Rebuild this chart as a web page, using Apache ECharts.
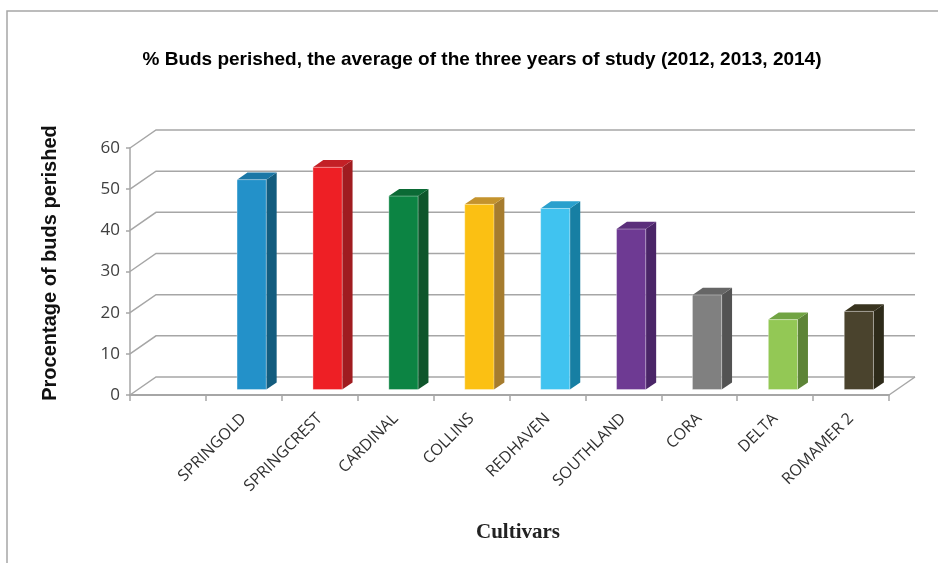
<!DOCTYPE html>
<html>
<head>
<meta charset="utf-8">
<script src="https://cdn.jsdelivr.net/npm/echarts@6/dist/echarts.min.js"></script>
<style>
  html, body { margin: 0; padding: 0; background: #fff; }
  #chart { width: 938px; height: 563px; }
</style>
</head>
<body>
<div id="chart"></div>
<script>
// chart data (first category is left empty, as in the original sheet)
var cultivars = ['', 'SPRINGOLD', 'SPRINGCREST', 'CARDINAL', 'COLLINS', 'REDHAVEN', 'SOUTHLAND', 'CORA', 'DELTA', 'ROMAMER 2'];
var budsPerished = [null, 51, 54, 47, 45, 44, 39, 23, 17, 19];
var yTicks = [0, 10, 20, 30, 40, 50, 60];

// face colours: front, side, top
var barColors = [
	null,
	['#2391c9', '#135c7e', '#1b77a6'],
	['#ee1f25', '#a01c20', '#c32026'],
	['#0c8443', '#0e552b', '#0b6a35'],
	['#fbc013', '#a67c2e', '#c4932d'],
	['#40c3f0', '#177fa3', '#2aa0cd'],
	['#6e3a93', '#4a2567', '#5b2f7b'],
	['#808080', '#535353', '#666666'],
	['#93c855', '#5d8437', '#71a443'],
	['#4a432d', '#2e2b1a', '#39341f']
];

// oblique depth of the 3d box
var DX = 26, DY = -18;
var GRID_COLOR = '#a6a6a6';

var chart = echarts.init(document.getElementById('chart'));

var barData = [];
for (var i = 0; i < cultivars.length; i++) {
	if (budsPerished[i] != null) barData.push([i, budsPerished[i]]);
}
var wallData = yTicks.map(function (v) { return [0, v]; });

function renderWall(params, api) {
	var v = api.value(1);
	var bw = api.size([1, 0])[0];
	var p0 = api.coord([0, v]);
	var p1 = api.coord([cultivars.length - 1, v]);
	var x0 = p0[0] - bw / 2, x1 = p1[0] + bw / 2, y = p0[1];
	var style = { stroke: GRID_COLOR, lineWidth: 1.5, fill: null };
	var children = [{
		type: 'polyline',
		shape: { points: [[x0, y], [x0 + DX, y + DY], [x1 + DX, y + DY]] },
		style: style
	}];
	if (v === 0) {
		children.push({
			type: 'line',
			shape: { x1: x1, y1: y, x2: x1 + DX, y2: y + DY },
			style: style
		});
	}
	return { type: 'group', children: children };
}

function renderBar(params, api) {
	var idx = api.value(0);
	var top = api.coord([idx, api.value(1)]);
	var base = api.coord([idx, 0]);
	var bw = api.size([1, 0])[0];
	var w = bw * 0.385;
	var f0 = 0.3, depth = 0.4;
	var xl = top[0] - w / 2 + DX * f0;
	var xr = xl + w;
	var yt = top[1] + DY * f0;
	var yb = base[1] + DY * f0;
	var ddx = DX * depth, ddy = DY * depth;
	var c = barColors[idx];
	return {
		type: 'group',
		children: [
			{
				type: 'polygon',
				shape: { points: [[xr, yt], [xr + ddx, yt + ddy], [xr + ddx, yb + ddy], [xr, yb]] },
				style: { fill: c[1] }
			},
			{
				type: 'polygon',
				shape: { points: [[xl, yt], [xr, yt], [xr + ddx, yt + ddy], [xl + ddx, yt + ddy]] },
				style: { fill: c[2] }
			},
			{
				type: 'rect',
				shape: { x: xl, y: yt, width: w, height: yb - yt },
				style: { fill: c[0], stroke: 'rgba(255,255,255,0.35)', lineWidth: 1 }
			}
		]
	};
}

var option = {
	animation: false,
	title: {
		text: '% Buds perished, the average of the three years of study (2012, 2013, 2014)',
		left: 477,
		top: 45,
		textAlign: 'center',
		textStyle: { fontFamily: 'Liberation Sans', fontWeight: 'bold', fontSize: 19, color: '#000' }
	},
	graphic: [
		{
			type: 'rect',
			shape: { x: 7, y: 11, width: 1000, height: 1000 },
			style: { fill: null, stroke: '#a6a6a6', lineWidth: 1.5 },
			silent: true
		},
		{
			type: 'text',
			x: 518,
			y: 533,
			style: {
				text: 'Cultivars',
				font: 'bold 21px "Liberation Serif"',
				fill: '#222',
				align: 'center',
				verticalAlign: 'middle'
			}
		},
		{
			type: 'text',
			rotation: Math.PI / 2,
			x: 50,
			y: 263,
			style: {
				text: 'Procentage of buds perished',
				font: 'bold 20px "Liberation Sans"',
				fill: '#111',
				align: 'center',
				verticalAlign: 'middle'
			}
		}
	],
	grid: { left: 130, right: 49, top: 148, bottom: 168 },
	xAxis: {
		type: 'category',
		data: cultivars,
		boundaryGap: true,
		axisLine: { lineStyle: { color: GRID_COLOR, width: 2 } },
		axisTick: { show: true, length: 6, interval: 0, lineStyle: { color: GRID_COLOR, width: 1.5 } },
		axisLabel: {
			interval: 0,
			rotate: 45,
			margin: 21,
			fontFamily: 'Open Sans',
			fontSize: 16,
			color: '#303030'
		},
		splitLine: { show: false }
	},
	yAxis: {
		type: 'value',
		min: 0,
		max: 60,
		interval: 10,
		axisLine: { show: true, lineStyle: { color: GRID_COLOR, width: 1.5 } },
		axisTick: { show: true, length: 4, lineStyle: { color: GRID_COLOR, width: 1.5 } },
		axisLabel: { fontFamily: 'Open Sans', fontSize: 17, color: '#404040', margin: 10 },
		splitLine: { show: false }
	},
	series: [
		{
			type: 'custom',
			name: 'walls',
			renderItem: renderWall,
			data: wallData,
			z: 1,
			silent: true
		},
		{
			type: 'custom',
			name: 'Buds perished',
			renderItem: renderBar,
			data: barData,
			z: 3
		}
	]
};

chart.setOption(option);
</script>
</body>
</html>
